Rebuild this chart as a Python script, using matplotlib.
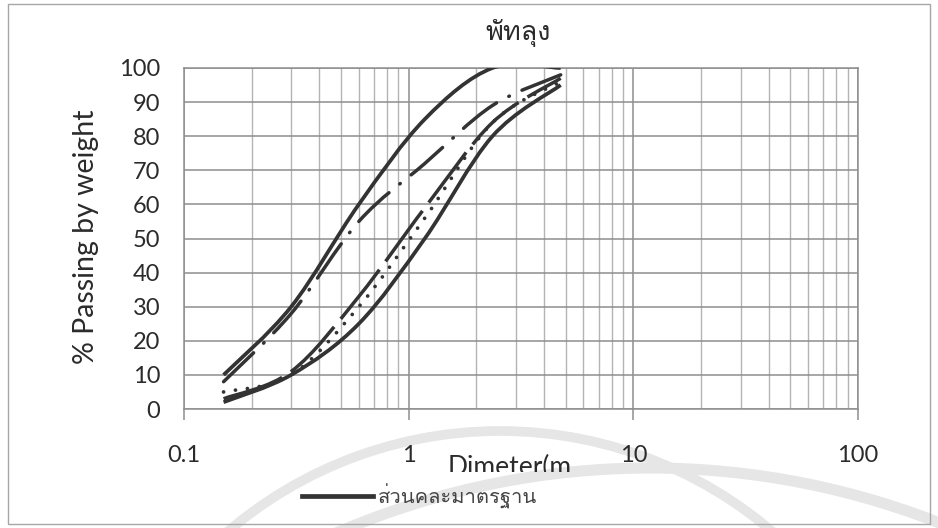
import matplotlib
matplotlib.use("Agg")
import matplotlib.pyplot as plt
import numpy as np
from matplotlib import font_manager
from matplotlib.ft2font import FT2Font
from matplotlib.lines import Line2D
from matplotlib.patches import Circle, PathPatch, Rectangle
from matplotlib.path import Path
from matplotlib.ticker import LogLocator, NullFormatter, FixedLocator, FixedFormatter
from matplotlib.transforms import Bbox

# sieve sizes (mm) and % passing
SIEVE_MM = [0.15, 0.3, 0.6, 1.18, 2.36, 4.75]
UPPER_LIMIT = [10, 30, 60, 85, 100, 100]
LOWER_LIMIT = [2, 10, 25, 50, 80, 95]
SAMPLE_DASHDOT = [8, 28, 55, 72, 89, 98]
SAMPLE_DASH = [3, 11, 33, 59, 84, 97]
SAMPLE_DOT = [5, 10, 30, 56, 84, 96]

Y_TICKS = list(range(0, 101, 10))
X_TICKS = [0.1, 1, 10, 100]
X_TICK_LABELS = ["0.1", "1", "10", "100"]

TITLE = "พัทลุง"
Y_LABEL = "% Passing by weight"
X_LABEL = "Dimeter(m"
LEGEND_LABEL = "ส่วนคละมาตรฐาน"

LINE_COLOR = "#333333"
TEXT_COLOR = "#2b2b2b"
LATIN_FONT = "Lato"

W, H = 938, 528


def thai_family():
    # first installed family that actually has Thai glyphs
    for f in font_manager.fontManager.ttflist:
        try:
            if 0x0E1E in FT2Font(f.fname).get_charmap():
                return f.name
        except Exception:
            continue
    return "DejaVu Sans"


def smooth_path(xs, ys):
    # smoothed line through the points: cubic Bezier segments built in log-x space
    pts = np.column_stack([np.log10(xs), np.asarray(ys, float)])
    padded = np.vstack([pts[0], pts, pts[-1]])
    verts = [pts[0]]
    codes = [Path.MOVETO]
    for i in range(len(pts) - 1):
        p0, p1, p2, p3 = padded[i], padded[i + 1], padded[i + 2], padded[i + 3]
        verts += [p1 + (p2 - p0) / 6, p2 - (p3 - p1) / 6, p2]
        codes += [Path.CURVE4] * 3
    verts = np.array(verts)
    verts[:, 0] = 10 ** verts[:, 0]
    return Path(verts, codes)


def add_curve(ax, ys, lw, linestyle="-", capstyle="butt"):
    patch = PathPatch(smooth_path(SIEVE_MM, ys), fill=False, edgecolor=LINE_COLOR,
                      lw=lw, linestyle=linestyle, capstyle=capstyle, zorder=3)
    ax.add_patch(patch)


def add_watermark(fig):
    # faint seal printed behind the lower part of the page, in pixel units
    bg = fig.add_axes([0, 0, 1, 1], zorder=-5)
    bg.set_xlim(0, W)
    bg.set_ylim(H, 0)
    bg.axis("off")
    for (cx, cy), r, lw in [((500, 850), 419, 7), ((650, 1258), 790, 8)]:
        bg.add_patch(Circle((cx, cy), r, fill=False, edgecolor="#e6e6e6", lw=lw))


def main():
    thai = thai_family()

    fig = plt.figure(figsize=(W / 100, H / 100), dpi=100)
    fig.patch.set_facecolor("white")
    add_watermark(fig)

    ax = fig.add_axes([184 / W, 1 - 409 / H, (858 - 184) / W, (409 - 68) / H])
    ax.set_facecolor("white")
    ax.set_xscale("log")
    ax.set_xlim(0.1, 100)
    ax.set_ylim(0, 100)

    ax.xaxis.set_major_locator(FixedLocator(X_TICKS))
    ax.xaxis.set_major_formatter(FixedFormatter(X_TICK_LABELS))
    ax.xaxis.set_minor_locator(LogLocator(base=10, subs=range(2, 10)))
    ax.xaxis.set_minor_formatter(NullFormatter())
    ax.set_yticks(Y_TICKS)

    ax.grid(which="major", color="#8e8e8e", lw=1.1)
    ax.grid(which="minor", axis="x", color="#b4b4b4", lw=1.0)
    ax.set_axisbelow(True)
    for spine in ax.spines.values():
        spine.set_color("#8e8e8e")
        spine.set_linewidth(1.1)

    ax.tick_params(axis="x", which="major", length=8, width=1.1, color="#8e8e8e",
                   pad=18, labelsize=17, labelcolor=TEXT_COLOR)
    ax.tick_params(axis="x", which="minor", length=0)
    ax.tick_params(axis="y", length=0, pad=17, labelsize=17, labelcolor=TEXT_COLOR)
    for lab in ax.get_xticklabels() + ax.get_yticklabels():
        lab.set_fontfamily(LATIN_FONT)

    # grading envelope and sample curves
    add_curve(ax, UPPER_LIMIT, 2.7)
    add_curve(ax, LOWER_LIMIT, 2.7)
    add_curve(ax, SAMPLE_DASHDOT, 2.5, linestyle=(0, (12, 4, 0.2, 4)), capstyle="round")
    add_curve(ax, SAMPLE_DASH, 2.5, linestyle=(0, (18, 3)))
    add_curve(ax, SAMPLE_DOT, 2.7, linestyle=(0, (0.01, 3.2)), capstyle="round")

    fig.text(518 / W, 1 - 33 / H, TITLE, ha="center", va="center", fontsize=19.5,
             family=[thai, "DejaVu Sans"], color=TEXT_COLOR)
    fig.text(86 / W, 1 - 237 / H, Y_LABEL, ha="center", va="center", rotation=90,
             fontsize=20.5, family=LATIN_FONT, color=TEXT_COLOR)

    # axis title is cut off along the top of the legend row
    xlab = fig.text(448 / W, 1 - 475 / H, X_LABEL, ha="left", va="baseline",
                    fontsize=19, family=LATIN_FONT, color=TEXT_COLOR)
    xlab.set_clip_box(Bbox.from_extents(0, H - 472, W, H))
    xlab.set_clip_on(True)

    handle = Line2D([], [], color=LINE_COLOR, lw=3.4)
    leg = fig.legend([handle], [LEGEND_LABEL], loc="center left",
                     bbox_to_anchor=(292 / W, 1 - 496 / H), frameon=False,
                     handlelength=3.5, handletextpad=0.25, borderpad=0,
                     prop={"family": [thai, "DejaVu Sans"], "size": 14.5})
    for t in leg.get_texts():
        t.set_color("#444444")

    fig.add_artist(Rectangle((8 / W, 1 - 524 / H), (930 - 8) / W, (524 - 4) / H,
                             transform=fig.transFigure, fill=False,
                             edgecolor="#a6a6a6", lw=1.0))

    fig.savefig("out.png", dpi=100)
    plt.close(fig)


if __name__ == "__main__":
    main()
